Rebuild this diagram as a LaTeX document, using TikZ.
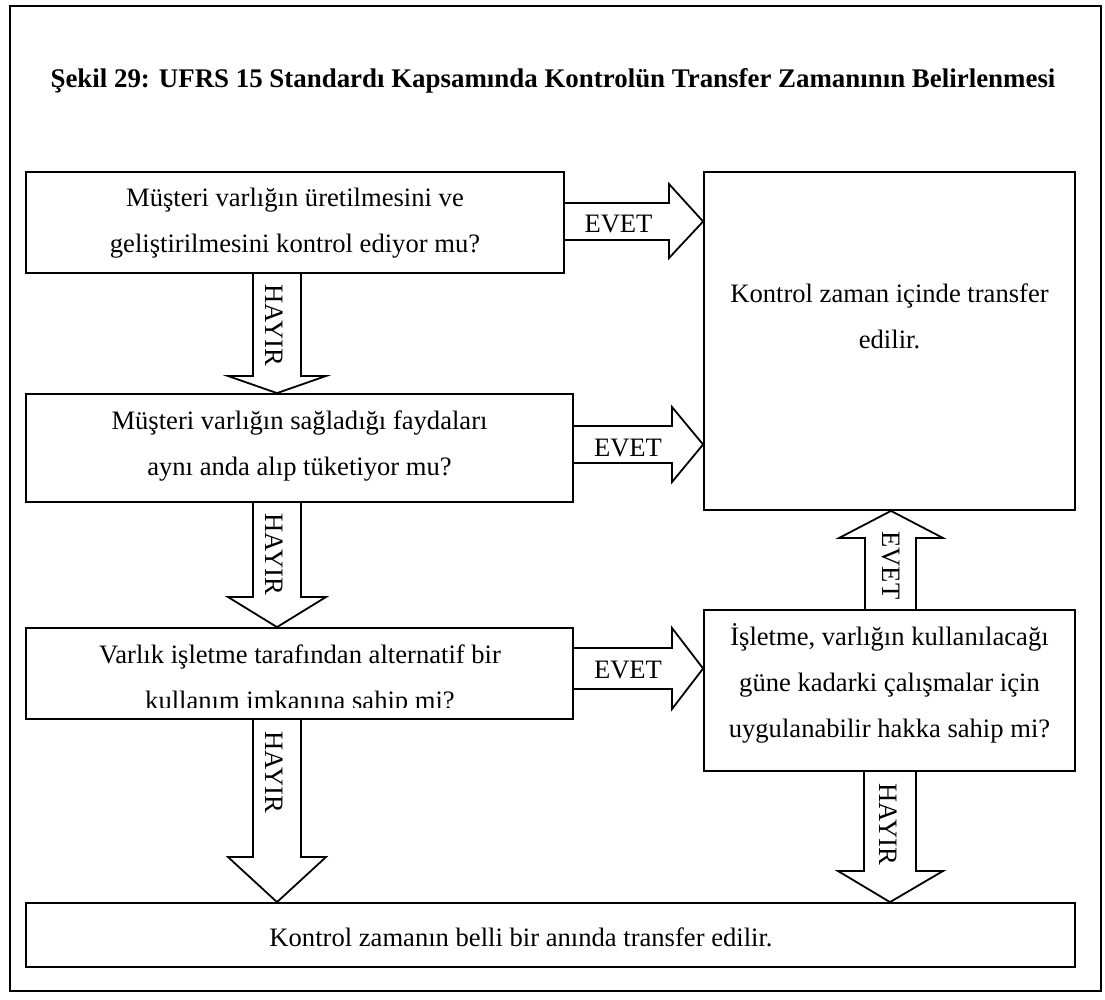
\documentclass[tikz,border=0pt]{standalone}
\usepackage{fontspec}
\setmainfont{Liberation Serif}
\usetikzlibrary{calc}
\begin{document}
\begin{tikzpicture}[x=1pt,y=-1pt,
  box/.style 2 args={draw,line width=1.8pt,fill=white,inner sep=0pt,
    minimum width=#1pt,minimum height=#2pt},
  txt/.style={font=\fontsize{26.6}{46}\selectfont,align=center,inner sep=0pt,anchor=base},
  lbl/.style={font=\fontsize{26.6}{30}\selectfont,inner sep=0pt},
  barrow/.style={draw,line width=1.8pt,line join=miter}]
% page area and outer frame
\useasboundingbox (0,0) rectangle (1105,999);
\draw[line width=2.2pt] (10,6) rectangle (1101,991);
\node[font=\bfseries\fontsize{26.9}{30}\selectfont,inner sep=0pt,anchor=base] (title) at (553,87)
  {Şekil 29: UFRS 15 Standardı Kapsamında Kontrolün Transfer Zamanının Belirlenmesi};

% decision and result boxes
\node[box={538}{101}] (q1) at (295,222.5) {};
\node[box={547}{108}] (q2) at (299.5,448) {};
\node[box={547}{91}]  (q3) at (299.5,673.5) {};
\node[box={371}{338}] (yes) at (889.5,341) {};
\node[box={371}{161}] (q4) at (889.5,690.5) {};
\node[box={1049}{64}] (no) at (550.5,935) {};

% box texts (anchored at the baseline of the last line)
\node[txt] (t1) at (295,252) {Müşteri varlığın üretilmesini ve\\geliştirilmesini kontrol ediyor mu?};
\node[txt] (t2) at (299.5,475) {Müşteri varlığın sağladığı faydaları\\aynı anda alıp tüketiyor mu?};
\begin{scope}
  \clip (28,630) rectangle (571,707);
  \node[txt] (t3) at (300,709) {Varlık işletme tarafından alternatif bir\\kullanım imkanına sahip mi?};
\end{scope}
\node[txt] (ty) at (889.5,348) {Kontrol zaman içinde transfer\\edilir.};
\node[txt] (t4) at (889.5,737) {İşletme, varlığın kullanılacağı\\güne kadarki çalışmalar için\\uygulanabilir hakka sahip mi?};
\node[txt] (tn) at (521,946) {Kontrol zamanın belli bir anında transfer edilir.};

% EVET block arrows (to the right)
\draw[barrow] (q1.east |- 0,203) -- (669,203) -- (669,184) -- (yes.west |- 0,221.5)
  -- (669,258) -- (669,240) -- (q1.east |- 0,240);
\draw[barrow] (q2.east |- 0,426) -- (672,426) -- (672,407) -- (yes.west |- 0,444.5)
  -- (672,482) -- (672,463) -- (q2.east |- 0,463);
\draw[barrow] (q3.east |- 0,648) -- (672,648) -- (672,628) -- (q4.west |- 0,668.5)
  -- (672,709) -- (672,689) -- (q3.east |- 0,689);
% EVET block arrow (upwards)
\draw[barrow] (865,0 |- q4.north) -- (865,538) -- (839,538) -- (891,0 |- yes.south)
  -- (943,538) -- (916,538) -- (916,0 |- q4.north);
% HAYIR block arrows (downwards)
\draw[barrow] (253,0 |- q1.south) -- (253,376) -- (228,376) -- (277,0 |- q2.north)
  -- (326,376) -- (301,376) -- (301,0 |- q1.south);
\draw[barrow] (253,0 |- q2.south) -- (253,597) -- (228,597) -- (277,0 |- q3.north)
  -- (326,597) -- (301,597) -- (301,0 |- q2.south);
\draw[barrow] (253,0 |- q3.south) -- (253,857) -- (228,857) -- (277,0 |- no.north)
  -- (326,857) -- (301,857) -- (301,0 |- q3.south);
\draw[barrow] (864,0 |- q4.south) -- (864,871) -- (838,871) -- (890,0 |- no.north)
  -- (943,871) -- (916,871) -- (916,0 |- q4.south);

% arrow labels
\node[lbl,anchor=base] (e1) at (618.5,232) {EVET};
\node[lbl,anchor=base] (e2) at (628,456) {EVET};
\node[lbl,anchor=base] (e3) at (628,678) {EVET};
\node[lbl,rotate=-90] (e4) at (891,565.5) {EVET};
\node[lbl,rotate=-90] (h1) at (274,325.5) {HAYIR};
\node[lbl,rotate=-90] (h2) at (274,554.5) {HAYIR};
\node[lbl,rotate=-90] (h3) at (274,772) {HAYIR};
\node[lbl,rotate=-90] (h4) at (888,824) {HAYIR};
\end{tikzpicture}
\end{document}
